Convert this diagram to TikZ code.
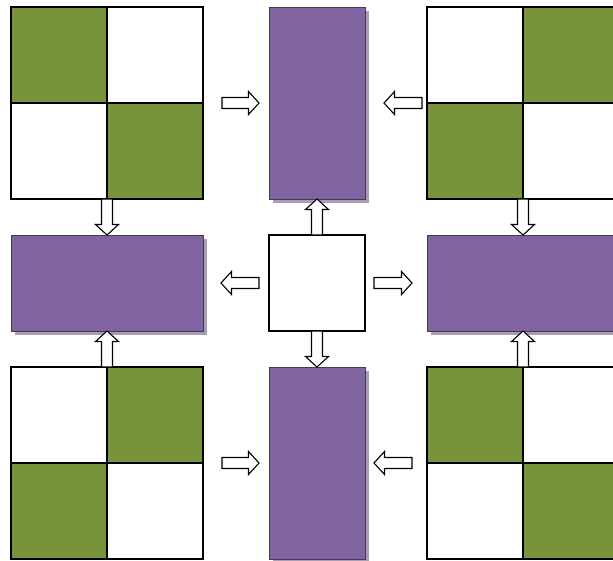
\documentclass[tikz,border=0pt]{standalone}
\usetikzlibrary{calc,shadows}
\definecolor{ppl}{RGB}{128,100,162}
\definecolor{olv}{RGB}{119,147,60}
\definecolor{shd}{RGB}{166,160,172}
\tikzset{
 gridbox/.style={rectangle, minimum width=192pt, minimum height=192pt, inner sep=0pt, outer sep=0pt},
 gridline/.style={draw=black, line width=1.8pt},
 purplebox/.style={rectangle, fill=ppl, draw=black!75, line width=0.9pt, inner sep=0pt, outer sep=0pt,
   drop shadow={shadow xshift=4pt, shadow yshift=-4pt, fill=shd, opacity=1}},
 tallbox/.style={purplebox, minimum width=96pt, minimum height=192pt},
 widebox/.style={purplebox, minimum width=192pt, minimum height=96pt},
 whitebox/.style={rectangle, draw=black, line width=1.8pt, fill=white, minimum size=96pt, inner sep=0pt, outer sep=0pt},
 blockarrow/.style={draw=black, fill=white, line width=1.1pt, line join=miter},
}
\newcommand{\blkarrow}[2]{%
 \coordinate (ah) at ($(#2)!10.5pt!(#1)$);
 \draw[blockarrow] ($(#1)!5.5pt!90:(#2)$) -- ($(ah)!5.5pt!90:(#2)$) -- ($(ah)!11.5pt!90:(#2)$) -- (#2)
   -- ($(ah)!11.5pt!-90:(#2)$) -- ($(ah)!5.5pt!-90:(#2)$) -- ($(#1)!5.5pt!-90:(#2)$) -- cycle;}
\begin{document}
\begin{tikzpicture}[x=1pt,y=-1pt]
\useasboundingbox (0,0) rectangle (613,560);
\fill[white] (0,0) rectangle (613,560);
% checker grids
\node[gridbox] (tl) at (107,103) {};
\fill[olv] (tl.north west) rectangle (tl.center);
\fill[olv] (tl.center) rectangle (tl.south east);
\draw[gridline] (tl.north west) rectangle (tl.south east) (tl.north) -- (tl.south) (tl.west) -- (tl.east);

\node[gridbox] (tr) at (523,103) {};
\fill[olv] (tr.north) rectangle (tr.east);
\fill[olv] (tr.west) rectangle (tr.south);
\draw[gridline] (tr.north west) rectangle (tr.south east) (tr.north) -- (tr.south) (tr.west) -- (tr.east);

\node[gridbox] (bl) at (107,463) {};
\fill[olv] (bl.north) rectangle (bl.east);
\fill[olv] (bl.west) rectangle (bl.south);
\draw[gridline] (bl.north west) rectangle (bl.south east) (bl.north) -- (bl.south) (bl.west) -- (bl.east);

\node[gridbox] (br) at (523,463) {};
\fill[olv] (br.north west) rectangle (br.center);
\fill[olv] (br.center) rectangle (br.south east);
\draw[gridline] (br.north west) rectangle (br.south east) (br.north) -- (br.south) (br.west) -- (br.east);

% purple boxes and centre
\node[tallbox] (tm) at (317,103) {};
\node[tallbox] (bm) at (317,463) {};
\node[widebox] (ml) at (107,283) {};
\node[widebox] (mr) at (523,283) {};
\node[whitebox] (mc) at (317,283) {};

% horizontal arrow end points
\coordinate (a1t) at ($(tl.east)+(19,0)$);
\coordinate (a1h) at ($(tl.east)+(56,0)$);
\coordinate (a2t) at ($(tm.east)+(57,0)$);
\coordinate (a2h) at ($(tm.east)+(19,0)$);
\coordinate (a3t) at ($(mc.west)+(-10,0)$);
\coordinate (a3h) at ($(ml.east)+(18,0)$);
\coordinate (a4t) at ($(mc.east)+(9,0)$);
\coordinate (a4h) at ($(mc.east)+(47,0)$);
\coordinate (a5t) at ($(bl.east)+(19,0)$);
\coordinate (a5h) at ($(bl.east)+(56,0)$);
\coordinate (a6t) at ($(bm.east)+(47,0)$);
\coordinate (a6h) at ($(bm.east)+(9,0)$);

\blkarrow{a1t}{a1h}
\blkarrow{a2t}{a2h}
\blkarrow{a3t}{a3h}
\blkarrow{a4t}{a4h}
\blkarrow{a5t}{a5h}
\blkarrow{a6t}{a6h}
% vertical arrows
\blkarrow{tl.south}{ml.north}
\blkarrow{bl.north}{ml.south}
\blkarrow{mc.north}{tm.south}
\blkarrow{mc.south}{bm.north}
\blkarrow{tr.south}{mr.north}
\blkarrow{br.north}{mr.south}
\end{tikzpicture}
\end{document}
